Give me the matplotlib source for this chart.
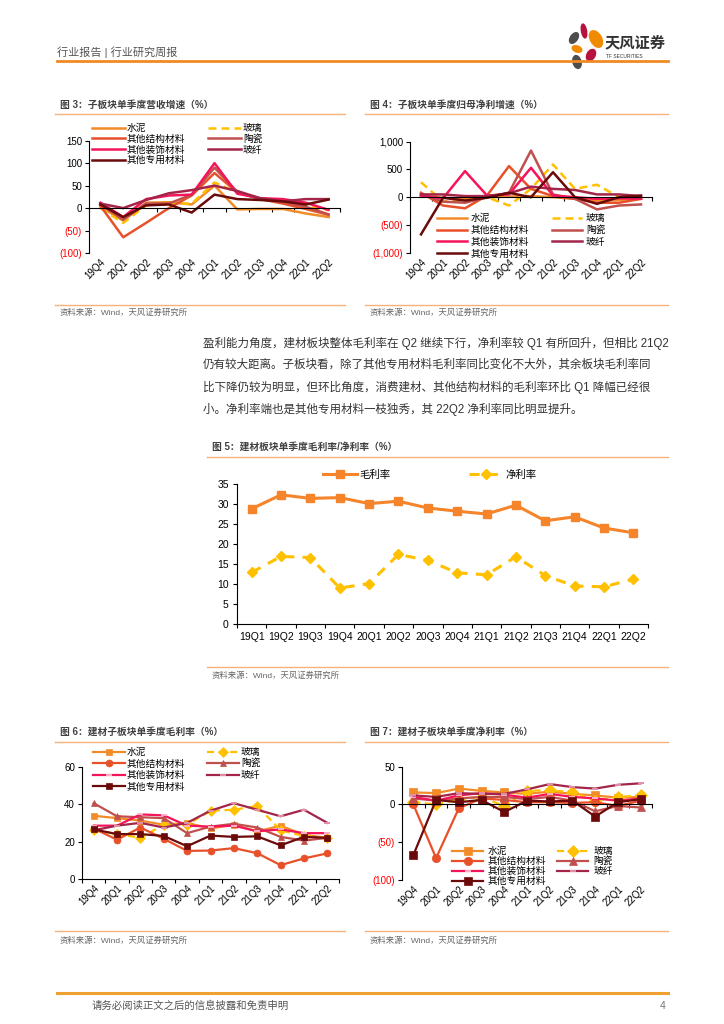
import numpy as np
import matplotlib
matplotlib.use("Agg")
from matplotlib import pyplot as plt
from matplotlib.patches import Ellipse

plt.rcParams['font.family'] = ['Liberation Sans', 'Noto Sans CJK SC', 'DejaVu Sans']

# ---- data -------------------------------------------------------------
quarters = ['19Q4', '20Q1', '20Q2', '20Q3', '20Q4', '21Q1', '21Q2', '21Q3', '21Q4', '22Q1', '22Q2']
names = ['水泥', '玻璃', '其他结构材料', '陶瓷', '其他装饰材料', '玻纤', '其他专用材料']

# 图3 子板块单季度营收增速 (%)
rev_growth = {
    '水泥': [3, -28, 12, 13, 8, 50, -3, -2, -2, -12, -20],
    '玻璃': [0, -33, 6, 10, 10, 57, 35, 22, 15, 5, -5],
    '其他结构材料': [5, -65, -33, 0, 28, 78, 35, 20, 10, -2, -15],
    '陶瓷': [8, -26, 10, 10, 30, 90, 36, 20, 14, 3, -14],
    '其他装饰材料': [12, -20, 20, 28, 30, 100, 32, 22, 20, 12, -4],
    '玻纤': [10, 0, 18, 33, 40, 50, 38, 22, 15, 20, 20],
    '其他专用材料': [8, -20, 6, 8, -10, 30, 20, 18, 15, 8, 19],
}

# 图4 子板块单季度归母净利增速 (%)
np_growth = {
    '水泥': [20, -10, -30, 0, 10, 20, 0, -30, -60, -50, -20],
    '玻璃': [270, -80, -60, 0, -150, 150, 590, 150, 225, 0, 20],
    '其他结构材料': [80, -150, -200, 30, 560, 150, 20, -30, -100, -100, -30],
    '陶瓷': [50, -80, -100, 0, 80, 840, 50, -30, -220, -150, -130],
    '其他装饰材料': [30, -20, 470, 30, 50, 530, 30, 0, -30, -20, -30],
    '玻纤': [50, 50, 20, 20, 70, 190, 150, 130, 50, 50, 20],
    '其他专用材料': [-670, -10, -60, -10, 80, 0, 450, 0, -120, 0, 30],
}

# 图5 建材板块单季度毛利率/净利率 (%)
quarters5 = ['19Q1', '19Q2', '19Q3', '19Q4', '20Q1', '20Q2', '20Q3', '20Q4',
             '21Q1', '21Q2', '21Q3', '21Q4', '22Q1', '22Q2']
gross_margin = [28.8, 32.3, 31.4, 31.6, 30.1, 30.7, 29.0, 28.2, 27.5, 29.7, 25.8, 26.8, 24.0, 22.8]
net_margin = [12.9, 16.9, 16.6, 9.0, 10.1, 17.4, 15.9, 12.8, 12.3, 16.8, 12.1, 9.5, 9.3, 11.2]

# 图6 建材子板块单季度毛利率 (%)
sub_gross = {
    '水泥': [33.8, 32.5, 31.2, 29, 30, 27, 29, 25.4, 28.5, 23.6, 22],
    '玻璃': [26, 24, 22, 29, 29, 36.5, 37, 39, 26, 23, 22],
    '其他结构材料': [27, 21, 27.5, 21.5, 15, 15.2, 16.5, 13.8, 7.4, 11, 13.7],
    '陶瓷': [40.5, 33.5, 33, 32.5, 24.5, 28, 29.5, 27.5, 22.5, 20.5, 22],
    '其他装饰材料': [28.5, 28.5, 34.5, 34, 28.5, 28, 28.5, 25.5, 26.5, 24.5, 24.5],
    '玻纤': [26, 28.5, 30, 27.5, 30, 36.5, 40.5, 37, 33.5, 37, 30],
    '其他专用材料': [26.5, 24, 24, 23, 17.5, 23.2, 22.5, 22.8, 18, 22.5, 22],
}

# 图7 建材子板块单季度净利率 (%)
sub_net = {
    '水泥': [16, 15, 21, 18, 16, 14, 17, 14, 12, 9, 10],
    '玻璃': [3, 0, 7, 10, -2, 18, 19, 16, 5, 10, 12],
    '其他结构材料': [0, -71, -5, 8, 6, 3, 3, 2, 3, -2, 5],
    '陶瓷': [8, 5, 8, 10, 10, 7, 10, 5, -9, -2, -4],
    '其他装饰材料': [10, 5, 12, 15, 13, 9, 14, 10, 8, 5, 8],
    '玻纤': [12, 10, 15, 14, 14, 20, 27, 23, 21, 26, 28],
    '其他专用材料': [-67, 6, 3, 6, -10, 5, 4, 5, -16, 3, 7],
}

colors = {
    '水泥': '#F28C28', '玻璃': '#FFC000', '其他结构材料': '#E8502A', '陶瓷': '#C0504D',
    '其他装饰材料': '#F5145A', '玻纤': '#A3264A', '其他专用材料': '#6B0A0A',
}
markers = {
    '水泥': 's', '玻璃': 'D', '其他结构材料': 'o', '陶瓷': '^',
    '其他装饰材料': '_', '玻纤': '_', '其他专用材料': 's',
}
marker_edge = {'其他装饰材料': '#FFB0C8', '玻纤': '#E090A8'}

paragraph = [
    '盈利能力角度，建材板块整体毛利率在 Q2 继续下行，净利率较 Q1 有所回升，但相比 21Q2',
    '仍有较大距离。子板块看，除了其他专用材料毛利率同比变化不大外，其余板块毛利率同',
    '比下降仍较为明显，但环比角度，消费建材、其他结构材料的毛利率环比 Q1 降幅已经很',
    '小。净利率端也是其他专用材料一枝独秀，其 22Q2 净利率同比明显提升。',
]

# ---- page -------------------------------------------------------------
W, H = 724, 1024
fig = plt.figure(figsize=(W / 100, H / 100), dpi=100)
ORANGE = '#F08A24'
LIGHT = '#F5B27A'


def box(l, t, r, b):
    return [l / W, 1 - b / H, (r - l) / W, (b - t) / H]


page = fig.add_axes([0, 0, 1, 1])
page.set_xlim(0, W)
page.set_ylim(H, 0)
page.axis('off')

# header
page.text(57, 52, '行业报告 | 行业研究周报', fontsize=8, color='#555555', va='center')
page.plot([57, 668], [61, 61], color=ORANGE, lw=2)
for cx, cy, w, h, ang, c in [(584, 31, 5, 14, -10, '#B5123E'), (574, 38, 7, 12, 35, '#4D4D4D'),
                             (596, 39, 11, 18, -30, '#F08A00'), (577, 49, 10, 6, 20, '#F08A00'),
                             (591, 55, 8, 12, 30, '#B5123E'), (577, 62, 8, 13, -15, '#4D4D4D')]:
    page.add_patch(Ellipse((cx, cy), w, h, angle=ang, color=c))
page.text(605, 43, '天风证券', fontsize=11, fontweight='bold', color='#333333', va='center')
page.text(606, 56, 'TF SECURITIES', fontsize=3.5, color='#333333', va='center')

# footer
page.plot([57, 668], [993, 993], color='#F0A030', lw=2.2)
page.text(92, 1006, '请务必阅读正文之后的信息披露和免责申明', fontsize=7.5, color='#555555', va='center')
page.text(665, 1006, '4', fontsize=7.5, color='#777777', va='center', ha='right')

# paragraph
for k, line in enumerate(paragraph):
    page.text(203, 343 + 22 * k, line, fontsize=8.3, color='#333333', va='center')


def frame(x0, x1, title_y, title, line_y, bottom_y, src_y):
    page.text(x0 + 5, title_y, title, fontsize=7, fontweight='bold', color='#404040', va='center')
    page.plot([x0, x1], [line_y, line_y], color=LIGHT, lw=1)
    page.plot([x0, x1], [bottom_y, bottom_y], color=LIGHT, lw=1)
    page.text(x0 + 5, src_y, '资料来源：Wind，天风证券研究所', fontsize=6, color='#666666', va='center')


frame(55, 345, 105, '图 3：子板块单季度营收增速（%）', 114, 305, 313)
frame(365, 668, 105, '图 4：子板块单季度归母净利增速（%）', 114, 305, 313)
frame(207, 668, 447, '图 5：建材板块单季度毛利率/净利率（%）', 457, 667, 676)
frame(55, 345, 732, '图 6：建材子板块单季度毛利率（%）', 742, 931, 941)
frame(365, 668, 732, '图 7：建材子板块单季度净利率（%）', 742, 931, 941)


def fmt(v):
    s = '{:,}'.format(abs(v))
    return '({})'.format(s) if v < 0 else s


def sub_chart(rect, data, ylim, yticks, lw, use_markers, ms, leg):
    ax = fig.add_axes(box(*rect))
    n = len(quarters)
    x = np.arange(n)
    handles = {}
    for nm in names:
        ls = (0, (3.2, 2)) if nm == '玻璃' else '-'
        kw = {}
        if use_markers:
            kw = dict(marker=markers[nm], markersize=ms if markers[nm] != '_' else ms - 1,
                      markerfacecolor=colors[nm],
                      markeredgecolor=marker_edge.get(nm, colors[nm]),
                      markeredgewidth=1.4 if markers[nm] == '_' else 0.5)
        h, = ax.plot(x, data[nm], color=colors[nm], lw=lw, linestyle=ls, label=nm, **kw)
        handles[nm] = h
    ax.set_xlim(-0.5, n - 0.5)
    ax.set_ylim(*ylim)
    ax.set_yticks(yticks)
    ax.set_yticklabels([fmt(v) for v in yticks])
    for lab, v in zip(ax.get_yticklabels(), yticks):
        lab.set_color('#FF0000' if v < 0 else '#000000')
    ax.tick_params(axis='y', length=3, width=0.8, labelsize=7, pad=2)
    ax.set_xticks(np.arange(-0.5, n, 1))
    ax.tick_params(axis='x', length=3, width=0.8, labelbottom=False)
    for s in ['top', 'right']:
        ax.spines[s].set_visible(False)
    ax.spines['bottom'].set_position(('data', 0))
    ax.spines['left'].set_linewidth(0.8)
    ax.spines['bottom'].set_linewidth(0.8)
    ax.patch.set_alpha(0)
    sec = ax.secondary_xaxis(0)
    sec.set_xticks(x, labels=quarters)
    sec.spines['bottom'].set_visible(False)
    sec.tick_params(length=0, pad=3, labelsize=7)
    plt.setp(sec.get_xticklabels(), rotation=45, ha='right', va='top', rotation_mode='anchor')
    # legend: left column then right column
    order = ['水泥', '其他结构材料', '其他装饰材料', '其他专用材料', '玻璃', '陶瓷', '玻纤']
    lx, ly, hl, tp, cs, sp = leg
    ax.legend([handles[k] for k in order], order, ncol=2, loc='upper left',
              bbox_to_anchor=(lx / W, 1 - ly / H), bbox_transform=fig.transFigure,
              frameon=False, borderpad=0, borderaxespad=0, handlelength=hl,
              handletextpad=tp, columnspacing=cs, labelspacing=sp, fontsize=7)
    return ax


sub_chart((89, 140.7, 340, 253), rev_growth, (-100, 150), [-100, -50, 0, 50, 100, 150],
          1.8, False, 0, (92, 123, 3.4, 0.2, 2.3, 0.08))
sub_chart((410, 141.7, 652, 252.7), np_growth, (-1000, 1000), [-1000, -500, 0, 500, 1000],
          1.8, False, 0, (437, 213, 3.1, 0.4, 2.3, 0.2))
sub_chart((82, 766.7, 339, 879), sub_gross, (0, 60), [0, 20, 40, 60],
          1.6, True, 5, (93, 747, 3.3, 0.2, 2.2, 0.15))
sub_chart((402, 766.7, 652, 880), sub_net, (-100, 50), [-100, -50, 0, 50],
          1.6, True, 6, (452, 846, 3.2, 0.5, 1.1, 0.0))

# 图5
ax5 = fig.add_axes(box(237, 484, 648, 624))
x5 = np.arange(len(quarters5))
ax5.plot(x5, gross_margin, color='#F5842A', lw=2.2, marker='s', markersize=6, label='毛利率')
ax5.plot(x5, net_margin, color='#FFC000', lw=2.2, linestyle=(0, (3.3, 2.7)), marker='D',
         markersize=5, label='净利率')
ax5.set_xlim(-0.5, len(quarters5) - 0.5)
ax5.set_ylim(0, 35)
ax5.set_yticks(np.arange(0, 36, 5))
ax5.tick_params(axis='y', length=3, width=0.8, labelsize=7.5, pad=3)
ax5.set_xticks(np.arange(-0.5, len(quarters5), 1))
ax5.tick_params(axis='x', length=3, width=0.8, labelbottom=False)
for s in ['top', 'right']:
    ax5.spines[s].set_visible(False)
ax5.spines['left'].set_linewidth(0.8)
ax5.spines['bottom'].set_linewidth(0.8)
ax5.patch.set_alpha(0)
sec5 = ax5.secondary_xaxis(0)
sec5.set_xticks(x5, labels=quarters5)
sec5.spines['bottom'].set_visible(False)
sec5.tick_params(length=0, pad=6, labelsize=7.5)
ax5.legend(ncol=2, loc='upper left', bbox_to_anchor=(323 / W, 1 - 470 / H),
           bbox_transform=fig.transFigure, frameon=False, borderpad=0, borderaxespad=0,
           handlelength=3.3, handletextpad=0.2, columnspacing=7.5, fontsize=7.5)

fig.savefig('out.png', dpi=100)
